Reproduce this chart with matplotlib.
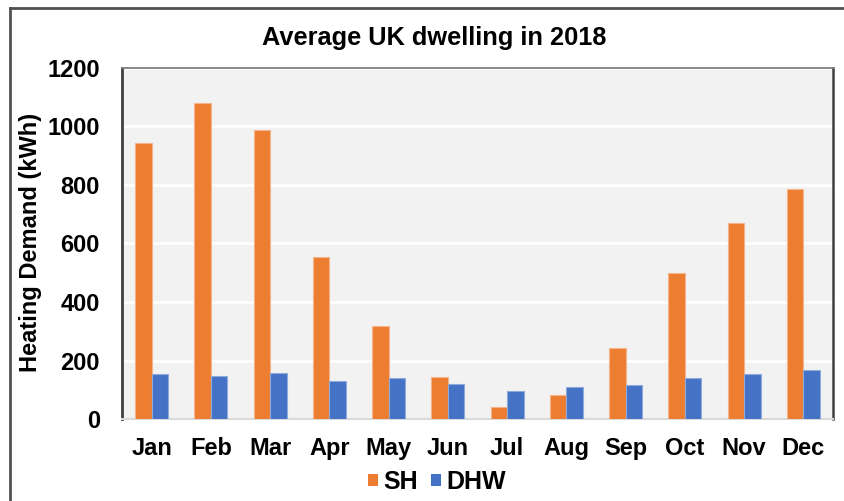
import numpy as np
import matplotlib
matplotlib.use("Agg")
import matplotlib.pyplot as plt
from matplotlib.lines import Line2D
from matplotlib.patches import Patch

plt.rcParams['font.family'] = ['Liberation Sans', 'DejaVu Sans']

months = ['Jan', 'Feb', 'Mar', 'Apr', 'May', 'Jun',
          'Jul', 'Aug', 'Sep', 'Oct', 'Nov', 'Dec']
sh = [942, 1081, 988, 553, 319, 144, 40, 83, 244, 498, 671, 786]
dhw = [153, 148, 158, 131, 139, 121, 96, 110, 115, 139, 155, 169]
yticks = [0, 200, 400, 600, 800, 1000, 1200]

orange = '#ED7D31'
blue = '#4472C4'

fig = plt.figure(figsize=(8.44, 5.01), dpi=100)
ax = fig.add_axes([122/844, 82/501, 711/844, 351/501])
ax.set_facecolor('#F2F2F2')

x = np.arange(len(months))
w = 0.28
ax.bar(x - w/2, sh, w, color=orange, edgecolor='#F5B48A', linewidth=0.8, zorder=3)
ax.bar(x + w/2, dhw, w, color=blue, edgecolor='#8FAADC', linewidth=0.8, zorder=3)

ax.set_xlim(-0.5, len(months) - 0.5)
ax.set_ylim(0, 1200)
ax.set_yticks(yticks)
ax.set_xticks(x)
ax.set_xticklabels(months)
ax.tick_params(axis='both', length=0, labelsize=17)
ax.tick_params(axis='y', pad=16)
ax.tick_params(axis='x', pad=13)
for lab in ax.get_xticklabels() + ax.get_yticklabels():
    lab.set_fontweight('bold')

ax.grid(axis='y', color='white', linewidth=2, zorder=1)
ax.set_axisbelow(True)

ax.spines['left'].set_color('#404040')
ax.spines['left'].set_linewidth(2)
ax.spines['right'].set_color('#404040')
ax.spines['right'].set_linewidth(1.8)
ax.spines['top'].set_color('#7F7F7F')
ax.spines['top'].set_linewidth(1.3)
ax.spines['bottom'].set_color('#D9D9D9')
ax.spines['bottom'].set_linewidth(1.5)

ax.set_ylabel('Heating Demand (kWh)', fontsize=17, fontweight='bold')
ax.yaxis.set_label_coords(-0.1125, 0.503)

fig.text(434/844, 1 - 38/501, 'Average UK dwelling in 2018', ha='center', va='center',
         fontsize=18.3, fontweight='bold')

handles = [Patch(facecolor=orange, edgecolor='none', label='SH'),
           Patch(facecolor=blue, edgecolor='none', label='DHW')]
fig.legend(handles=handles, loc='center', bbox_to_anchor=(437/844, 1 - 482/501), ncol=2,
           frameon=False, prop={'size': 18, 'weight': 'bold'},
           handlelength=0.4, handleheight=0.4, handletextpad=0.2, columnspacing=0.55,
           borderpad=0, borderaxespad=0)

# outer frame around the figure
fig.add_artist(Line2D([10/844, 10/844], [-0.05, 1 - 8/501], transform=fig.transFigure,
                      color='#505050', linewidth=2))
fig.add_artist(Line2D([10/844, 1.05], [1 - 8/501, 1 - 8/501], transform=fig.transFigure,
                      color='#505050', linewidth=2))

fig.savefig('out.png', dpi=100)
